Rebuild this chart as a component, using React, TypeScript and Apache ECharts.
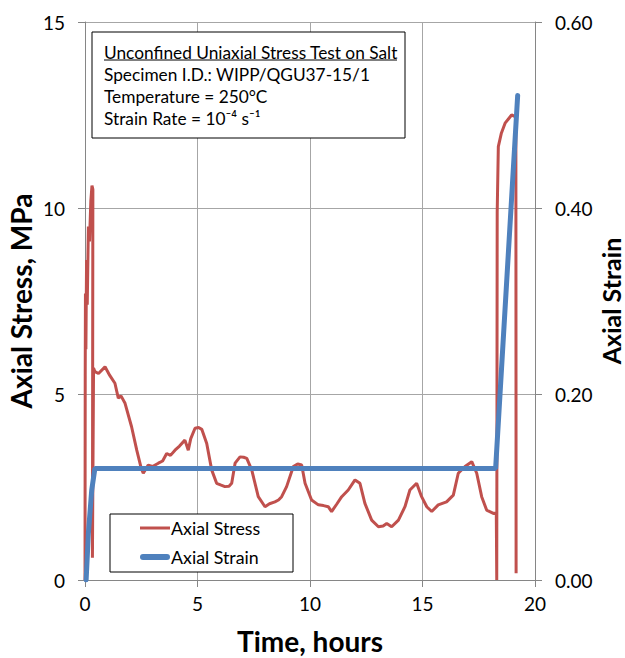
import React, { useEffect, useRef } from "react";
import * as echarts from "echarts";

const timeTicks = [0, 5, 10, 15, 20];
const stressTicks = [0, 5, 10, 15];
const strainTicks = [0, 0.2, 0.4, 0.6];

const infoLines = [
  "Unconfined Uniaxial Stress Test on Salt",
  "Specimen I.D.: WIPP/QGU37-15/1",
  "Temperature = 250°C",
  "Strain Rate = 10⁻⁴ s⁻¹",
];

// [time (hours), axial stress (MPa)]
const stressData: [number, number][] = [
  [0, 0], [0.01, 5.5], [0.02, 7.7], [0.04, 6.2], [0.07, 8.6], [0.1, 7.4], [0.15, 9.5],
  [0.2, 9.1], [0.26, 10.2], [0.31, 10.6], [0.35, 10.5], [0.33, 0.6], [0.38, 5.7],
  [0.44, 5.6], [0.6, 5.55], [0.89, 5.73], [1.1, 5.5], [1.33, 5.29], [1.48, 4.89],
  [1.6, 4.95], [1.78, 4.75], [2.07, 4.12], [2.3, 3.49], [2.5, 3.0], [2.59, 2.87],
  [2.81, 3.09], [3.0, 3.05], [3.26, 3.14], [3.45, 3.2], [3.63, 3.4], [3.8, 3.35],
  [4.0, 3.49], [4.2, 3.6], [4.44, 3.76], [4.59, 3.49], [4.7, 3.8], [4.89, 4.08],
  [5.05, 4.1], [5.19, 4.05], [5.41, 3.67], [5.63, 2.96], [5.85, 2.6], [6.05, 2.55],
  [6.22, 2.51], [6.4, 2.52], [6.52, 2.6], [6.67, 3.14], [6.89, 3.31], [7.05, 3.3],
  [7.19, 3.27], [7.41, 2.96], [7.7, 2.24], [8.0, 1.97], [8.2, 2.05], [8.44, 2.1],
  [8.6, 2.15], [8.74, 2.24], [8.96, 2.51], [9.26, 3.05], [9.45, 3.12], [9.63, 3.09],
  [9.78, 2.6], [10.07, 2.15], [10.37, 2.02], [10.6, 2.0], [10.81, 1.97], [10.96, 1.84],
  [11.2, 2.05], [11.41, 2.24], [11.7, 2.42], [12.0, 2.69], [12.22, 2.6], [12.44, 2.06],
  [12.74, 1.61], [13.04, 1.43], [13.25, 1.45], [13.41, 1.52], [13.63, 1.43], [13.93, 1.61],
  [14.22, 1.97], [14.44, 2.42], [14.74, 2.6], [14.96, 2.24], [15.19, 1.97], [15.41, 1.84],
  [15.7, 2.02], [16.07, 2.1], [16.37, 2.28], [16.59, 2.87], [16.89, 3.05], [17.19, 3.18],
  [17.41, 2.87], [17.63, 2.24], [17.85, 1.88], [18.15, 1.79], [18.28, 1.8], [18.3, 0],
  [18.32, 9.9], [18.37, 11.65], [18.5, 12.0], [18.67, 12.28], [18.96, 12.5],
  [19.15, 12.45], [19.16, 0.18],
];

// [time (hours), axial strain]
const strainData: [number, number][] = [
  [0.05, 0], [0.15, 0.05], [0.3, 0.097], [0.44, 0.12], [18.25, 0.12], [19.23, 0.521],
];

const FONT = "Lato, 'Open Sans', sans-serif";
const TEXT = "#000000";

export default function App() {
  const ref = useRef<HTMLDivElement>(null);

  useEffect(() => {
    if (!ref.current) return;
    const chart = echarts.init(ref.current, undefined, { renderer: "svg" });
    const boxX = 92;
    const boxY = 32;
    const lineX = 104;
    const lineY0 = 52;
    const lineStep = 22;
    const axisLine = { show: true, lineStyle: { color: "#868686", width: 1 } };
    const axisTick = { show: true, length: 7, lineStyle: { color: "#868686" } };
    chart.setOption({
      animation: false,
      backgroundColor: "#ffffff",
      textStyle: { fontFamily: FONT },
      grid: {
        left: 85,
        right: 90,
        top: 22,
        bottom: 78,
        containLabel: false,
        outerBoundsMode: "none",
      },
      legend: {
        orient: "vertical",
        left: 140,
        top: 519,
        padding: 0,
        itemGap: 11,
        itemWidth: 30,
        itemHeight: 14,
        symbolKeepAspect: true,
        textStyle: { fontSize: 17.8, color: TEXT, fontFamily: FONT, padding: [0, 0, 0, -4] },
        data: [
          {
            name: "Axial Stress",
            icon: "path://M0,0H30V3H0Z",
            itemStyle: { color: "#C0504D" },
          },
          {
            name: "Axial Strain",
            icon: "path://M3,0H27A3,3 0 0 1 27,6H3A3,3 0 0 1 3,0Z",
            itemStyle: { color: "#4F81BD" },
          },
        ],
      },
      xAxis: {
        type: "value",
        min: timeTicks[0],
        max: timeTicks[timeTicks.length - 1],
        interval: 5,
        name: "Time, hours",
        nameLocation: "middle",
        nameGap: 48,
        nameMoveOverlap: false,
        nameTextStyle: {
          fontSize: 28,
          lineHeight: 26,
          fontWeight: "bold",
          color: TEXT,
          fontFamily: FONT,
        },
        axisLine,
        axisTick,
        axisLabel: { fontSize: 19, color: TEXT, margin: 14, fontFamily: FONT },
        splitLine: { show: true, lineStyle: { color: "#a6a6a6", width: 1 } },
      },
      yAxis: [
        {
          type: "value",
          min: stressTicks[0],
          max: stressTicks[stressTicks.length - 1],
          interval: 5,
          name: "Axial Stress, MPa",
          nameLocation: "middle",
          nameRotate: 90,
          nameGap: 51,
          nameMoveOverlap: false,
          nameTextStyle: {
            fontSize: 28,
            lineHeight: 26,
            fontWeight: "bold",
            color: TEXT,
            fontFamily: FONT,
          },
          axisLine,
          axisTick,
          axisLabel: { fontSize: 19, color: TEXT, margin: 20, fontFamily: FONT },
          splitLine: { show: true, lineStyle: { color: "#a6a6a6", width: 1 } },
        },
        {
          type: "value",
          position: "right",
          min: strainTicks[0],
          max: strainTicks[strainTicks.length - 1],
          interval: 0.2,
          name: "Axial Strain",
          nameLocation: "middle",
          nameRotate: 90,
          nameGap: 64,
          nameMoveOverlap: false,
          nameTextStyle: {
            fontSize: 25,
            lineHeight: 23,
            fontWeight: "bold",
            color: TEXT,
            fontFamily: FONT,
          },
          axisLine,
          axisTick,
          axisLabel: {
            fontSize: 19,
            color: TEXT,
            margin: 20,
            fontFamily: FONT,
            formatter: (v: number) => v.toFixed(2),
          },
          splitLine: { show: false },
        },
      ],
      series: [
        {
          name: "Axial Stress",
          type: "line",
          xAxisIndex: 0,
          yAxisIndex: 0,
          data: stressData,
          showSymbol: false,
          symbol: "none",
          lineStyle: { color: "#C0504D", width: 3 },
          itemStyle: { color: "#C0504D" },
          z: 2,
        },
        {
          name: "Axial Strain",
          type: "line",
          xAxisIndex: 0,
          yAxisIndex: 1,
          data: strainData,
          showSymbol: false,
          symbol: "none",
          lineStyle: { color: "#4F81BD", width: 5, cap: "round" },
          itemStyle: { color: "#4F81BD" },
          z: 3,
        },
      ],
      graphic: [
        {
          type: "rect",
          shape: { x: boxX, y: boxY, width: 313, height: 106 },
          style: { fill: "#ffffff", stroke: "#000000", lineWidth: 1 },
          z: 10,
        },
        ...infoLines.map((t, i) => ({
          type: "text",
          x: lineX,
          y: lineY0 + i * lineStep,
          style: {
            text: t,
            fontSize: 17.3,
            fontFamily: FONT,
            fill: TEXT,
            align: "left",
            verticalAlign: "middle",
          },
          z: 11,
        })),
        {
          type: "line",
          shape: { x1: lineX, y1: 60, x2: 397, y2: 60 },
          style: { stroke: "#000000", lineWidth: 1 },
          z: 11,
        },
        {
          type: "rect",
          shape: { x: 110, y: 514, width: 183, height: 58 },
          style: { fill: "#ffffff", stroke: "#000000", lineWidth: 1 },
          z: 4,
          silent: true,
        },
      ],
    });
    return () => chart.dispose();
  }, []);

  return (
    <div
      ref={ref}
      style={{ position: "absolute", left: 0, top: 0, width: 625, height: 658 }}
    />
  );
}
